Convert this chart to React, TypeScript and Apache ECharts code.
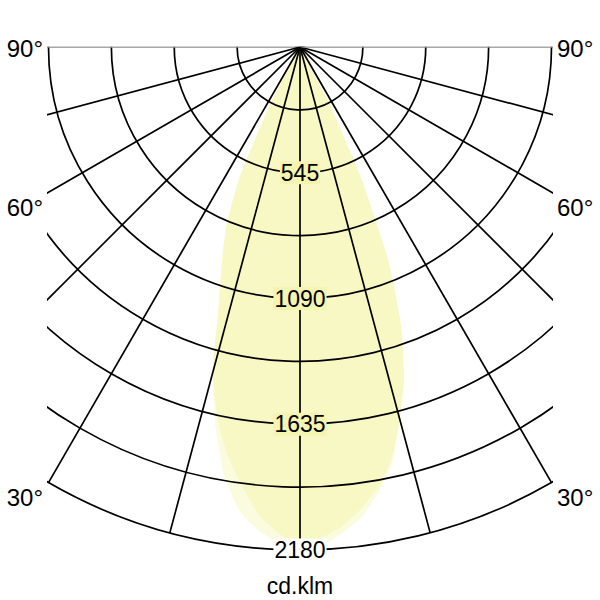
import React, { useEffect, useRef } from 'react';
import * as echarts from 'echarts';

// luminous intensity distribution, cd/klm, gamma angle in degrees (0 = straight down)
const gammas = [
  -30, -27.5, -25, -22.5, -20, -17.5, -15, -12.5, -10, -7.5, -5, -2.5, 0,
  2.5, 5, 7.5, 10, 12.5, 15, 17.5, 20, 22.5, 25, 27.5, 30
];
// narrower plane
const planeC0 = [
  0, 280, 610, 830, 990, 1170, 1460, 1650, 1800, 1920, 2035, 2110, 2160,
  2130, 2085, 2020, 1940, 1830, 1670, 1500, 1280, 1000, 630, 270, 0
];
// wider plane
const planeC90 = [
  0, 280, 610, 830, 990, 1170, 1460, 1690, 1890, 2025, 2100, 2150, 2170,
  2160, 2115, 2055, 1960, 1847, 1670, 1500, 1280, 1000, 630, 270, 0
];

const ringLabels = [545, 1090, 1635, 2180];
const sideLabels = ['90°', '60°', '30°'];
const unitLabel = 'cd.klm';

const radiusMax = 2180;
const ringStep = 272.5;
const spokeStep = 15;

const FONT = "'Liberation Sans', Arial, sans-serif";
const FILL = 'rgba(236, 234, 100, 0.3)';
const OVERLAP_BG = '#f5f4b0';

const App: React.FC = () => {
  const chartRef = useRef<HTMLDivElement>(null);

  useEffect(() => {
    if (!chartRef.current) return;
    const chart = echarts.init(chartRef.current, undefined, { renderer: 'svg' });

    const spokeColors = Array.from({ length: 360 / spokeStep }, (_, i) =>
      i === 6 || i === 18 ? '#8a8a8a' : '#000'
    );

    const curve = (vals: number[]) => gammas.map((g, i) => [vals[i], g]);

    const sideY = [48, 207, 497];
    const graphic: any[] = [
      { type: 'rect', z: 10, shape: { x: 0, y: 0, width: 600, height: 46.4 }, style: { fill: '#fff' } },
      { type: 'rect', z: 10, shape: { x: 0, y: 0, width: 47, height: 600 }, style: { fill: '#fff' } },
      { type: 'rect', z: 10, shape: { x: 553, y: 0, width: 47, height: 600 }, style: { fill: '#fff' } }
    ];
    sideLabels.forEach((t, i) => {
      graphic.push({
        type: 'text', z: 11, x: 43, y: sideY[i],
        style: { text: t, font: `24px ${FONT}`, fill: '#000', align: 'right', verticalAlign: 'middle' }
      });
      graphic.push({
        type: 'text', z: 11, x: 557, y: sideY[i],
        style: { text: t, font: `24px ${FONT}`, fill: '#000', align: 'left', verticalAlign: 'middle' }
      });
    });
    graphic.push({
      type: 'text', z: 11, x: 300, y: 586,
      style: { text: unitLabel, font: `23px ${FONT}`, fill: '#000', align: 'center', verticalAlign: 'middle' }
    });

    chart.setOption({
      animation: false,
      polar: { center: [300, 47], radius: 503 },
      angleAxis: {
        type: 'value',
        min: -180,
        max: 180,
        interval: spokeStep,
        startAngle: 90,
        clockwise: false,
        z: 3,
        axisLine: { show: false },
        axisTick: { show: false },
        axisLabel: { show: false },
        splitLine: { show: true, lineStyle: { color: spokeColors, width: 1.7 } }
      },
      radiusAxis: {
        type: 'value',
        min: 0,
        max: radiusMax,
        interval: ringStep,
        z: 3,
        axisLine: { show: false },
        axisTick: { show: false },
        axisLabel: { show: false },
        splitLine: { show: true, lineStyle: { color: '#000', width: 1.7 } }
      },
      series: [
        {
          type: 'line',
          coordinateSystem: 'polar',
          data: curve(planeC90),
          smooth: 0.15,
          showSymbol: false,
          z: 1,
          lineStyle: { width: 0, opacity: 0 },
          areaStyle: { color: FILL }
        },
        {
          type: 'line',
          coordinateSystem: 'polar',
          data: curve(planeC0),
          smooth: 0.15,
          showSymbol: false,
          z: 1,
          lineStyle: { width: 0, opacity: 0 },
          areaStyle: { color: FILL }
        },
        {
          type: 'scatter',
          coordinateSystem: 'polar',
          symbolSize: 0,
          z: 5,
          itemStyle: { opacity: 1 },
          data: ringLabels.map((v, i) => ({
            value: [v, 0],
            label: { backgroundColor: i === ringLabels.length - 1 ? '#fff' : OVERLAP_BG }
          })),
          label: {
            show: true,
            position: 'inside',
            formatter: (p: any) => String(p.value[0]),
            fontFamily: FONT,
            fontSize: 23,
            color: '#000',
            padding: [0, 1]
          }
        }
      ],
      graphic
    });

    return () => {
      chart.dispose();
    };
  }, []);

  return (
    <div
      ref={chartRef}
      style={{ position: 'fixed', left: 0, top: 0, width: 600, height: 600, background: '#fff' }}
    />
  );
};

export default App;
